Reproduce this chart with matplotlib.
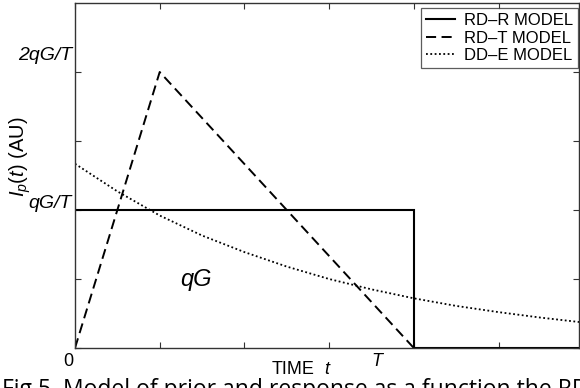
import matplotlib
matplotlib.use("Agg")
import matplotlib.pyplot as plt

# Data (units: time in ticks, T = 4; qG/T = 2)
rdr_t = [0, 4, 4, 5.95]
rdr_y = [2, 2, 0, 0]
rdt_t = [0, 1, 4]
rdt_y = [0, 4, 0]
dde_t = [0, 0.5, 1, 1.5, 2, 2.5, 3, 3.5, 4, 4.5, 5, 5.5, 6]
dde_y = [2.67, 2.27, 1.92, 1.63, 1.39, 1.18, 1.00, 0.85, 0.72, 0.61, 0.52, 0.44, 0.37]
legend_labels = ["RD\u2013R MODEL", "RD\u2013T MODEL", "DD\u2013E MODEL"]
x_ticks = [0, 1, 2, 3, 4, 5]
y_ticks = [0, 1, 2, 3, 4]

plt.rcParams['font.family'] = ['Liberation Sans', 'DejaVu Sans']
plt.rcParams['mathtext.fontset'] = 'custom'
plt.rcParams['mathtext.rm'] = 'Liberation Sans'
plt.rcParams['mathtext.it'] = 'Liberation Sans:italic'

fig = plt.figure(figsize=(5.8, 3.88), dpi=100)
ax = fig.add_axes([75/580, 1-348/388, 504/580, 345/388])

ax.plot(rdr_t, rdr_y, color='black', lw=1.5, ls='-', label=legend_labels[0], solid_joinstyle='miter')
ax.plot(rdt_t, rdt_y, color='black', lw=1.4, ls=(0, (5.2, 2.8)), label=legend_labels[1])
ax.plot(dde_t, dde_y, color='black', lw=1.3, ls=(0, (1, 1.4)), label=legend_labels[2])

ax.set_xlim(0, 5.95)
ax.set_ylim(0, 5)
ax.set_xticks(x_ticks)
ax.set_yticks(y_ticks)
ax.tick_params(direction='in', top=True, right=True, length=4, width=0.8,
               labelbottom=False, labelleft=False, colors='#333333')
for s in ax.spines.values():
    s.set_color('#333333')
    s.set_linewidth(1.0)

leg = ax.legend(loc='upper right', bbox_to_anchor=(578/580, 1-8/388),
                bbox_transform=fig.transFigure, fontsize=12, frameon=True,
                fancybox=False, edgecolor='#333333', handlelength=1.75,
                handletextpad=0.55, borderpad=0.3, labelspacing=0.16,
                borderaxespad=0.0)
leg.get_frame().set_linewidth(0.9)

# Manual annotations
fig.text(72/580, 1-55/388, "2qG/T", ha='right', va='center', fontsize=14, style='italic')
fig.text(72/580, 1-203/388, "qG/T", ha='right', va='center', fontsize=14, style='italic')
fig.text(68/580, 1-362/388, "0", ha='center', va='center', fontsize=13)
fig.text(377/580, 1-361/388, "T", ha='center', va='center', fontsize=13, style='italic')
fig.text(272/580, 1-370/388, "TIME", ha='left', va='center', fontsize=13)
fig.text(327/580, 1-370/388, "t", ha='center', va='center', fontsize=13, style='italic')
ax.text(1.43, 0.99, "qG", ha='center', va='center', fontsize=17, style='italic')
fig.text(20/580, 1-157/388, r"$I_p(t)$ (AU)", rotation=90, ha='center', va='center',
         fontsize=14.5)

# Caption (cut off at the bottom)
fig.text(2/580, 1-396/388, "Fig 5. Model of prior and response as a function the RD",
         ha='left', va='baseline', fontsize=16.5, family=['Open Sans', 'DejaVu Sans'])

fig.savefig("out.png", dpi=100)
